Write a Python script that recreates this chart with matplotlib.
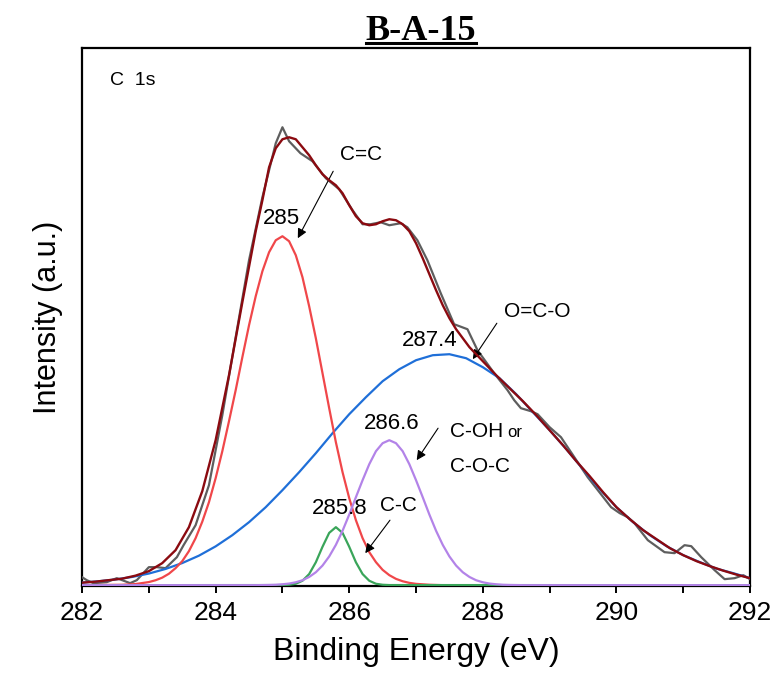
import numpy as np
from matplotlib import pyplot as plt
from matplotlib.lines import Line2D
from matplotlib.ticker import MultipleLocator

# raw spectrum
raw_energy = [282.0, 282.07, 282.17, 282.37, 282.52, 282.72, 282.82, 283.0, 283.12, 283.25,
              283.42, 283.52, 283.7, 283.9, 284.1, 284.3, 284.5, 284.7, 284.9, 285.0,
              285.1, 285.27, 285.45, 285.65, 285.85, 286.05, 286.2, 286.32, 286.47, 286.6,
              286.77, 286.87, 287.02, 287.17, 287.37, 287.57, 287.77, 287.92, 288.17, 288.37,
              288.47, 288.57, 288.72, 288.82, 289.0, 289.17, 289.27, 289.57, 289.92, 290.05,
              290.17, 290.27, 290.47, 290.72, 290.87, 291.02, 291.12, 291.27, 291.47, 291.62,
              291.77, 291.9, 292.0]
raw_counts = [8, 5, 2, 3, 7, 2, 5, 18, 18, 17,
              28, 40, 60, 100, 170, 248, 325, 388, 442, 458,
              444, 432, 424, 407, 396, 375, 361, 361, 363, 360,
              362, 358, 345, 325, 292, 261, 256, 235, 212, 195,
              185, 177, 174, 171, 158, 148, 138, 108, 78, 72,
              68, 62, 45, 33, 32, 40, 39, 28, 15, 6,
              7, 10, 6]

# fitted envelope
env_energy = np.concatenate([np.linspace(282.0, 284.6, 14),
                             np.linspace(284.7, 287.6, 30),
                             np.linspace(287.8, 292.0, 22)])
env_counts = [2.5, 3.5, 5, 6.5, 9.5, 14, 22, 35, 58, 94, 145, 210, 283, 354,
              385, 418, 437, 446, 448, 446, 438, 430, 420, 411,
              405, 400, 392, 380, 369, 362, 360, 361, 364, 366,
              365, 361, 354, 342, 327, 311, 295, 280, 267, 256,
              238, 224, 210, 197, 184, 170, 155, 140, 124, 109, 93,
              78, 66, 55, 46, 37, 30, 24, 19, 14.5, 10.5, 7]

# components
red_energy = np.concatenate([[282.0, 282.6, 282.8], np.linspace(283.0, 287.0, 41), [287.2, 287.4, 292.0]])
red_counts = [0, 0.4, 1.1,
              3.1, 4.9, 7.5, 11.4, 17, 24, 34, 47, 63.5, 83,
              107, 134, 164, 195, 228, 260, 289, 314, 333, 345,
              349, 344, 330, 308, 279, 247, 212, 177, 143, 113,
              87, 65, 47, 33, 23, 15.3, 10, 6.3, 3.9, 2.3,
              1.3,
              0.4, 0, 0]

green_energy = np.concatenate([[282.0], np.linspace(285.0, 286.6, 17), [292.0]])
green_counts = [0, 0.1, 0.4, 1.4, 4.4, 11.1, 22.9, 38.4, 52.3, 58,
                52.3, 38.4, 22.9, 11.1, 4.4, 1.4, 0.4, 0.1, 0]

purple_energy = np.concatenate([[282.0], np.linspace(284.6, 288.6, 41), [292.0]])
purple_counts = [0, 0, 0.1, 0.2, 0.4, 0.9, 1.6, 2.9, 4.9, 8.2, 12.9,
                 19.6, 28.7, 40.3, 54.4, 70.6, 88, 105, 121, 134, 142,
                 145, 142, 134, 121, 105, 88, 70.6, 54.4, 40.3, 28.7,
                 19.6, 12.9, 8.2, 4.9, 2.9, 1.6, 0.9, 0.4, 0.2, 0.1, 0, 0]

blue_energy = np.linspace(282.0, 292.0, 41)
blue_counts = [2.6, 3.9, 5.7, 8.2, 11.6, 16.2, 22.1, 29.5, 38.8, 50,
               63, 78, 95, 113, 132, 152, 171, 188, 204, 216,
               225, 230, 231, 227, 218, 207, 191, 173, 155, 136,
               116, 96, 78, 63, 50, 39, 30, 23, 16.5, 12, 7]

plt.rcParams['font.family'] = ['Liberation Sans', 'DejaVu Sans']

fig = plt.figure(figsize=(7.74, 6.80), dpi=100)
ax = fig.add_axes([0.106, 0.138, 0.863, 0.791])

ax.plot(raw_energy, raw_counts, color='#5e5e5e', lw=1.6, zorder=3)
ax.plot(blue_energy, blue_counts, color='#1f6fd8', lw=1.6, zorder=3)
ax.plot(red_energy, red_counts, color='#f0474a', lw=1.6, zorder=3)
ax.plot(green_energy, green_counts, color='#3aa55a', lw=1.6, zorder=3)
ax.plot(purple_energy, purple_counts, color='#b383e8', lw=1.6, zorder=3)
ax.plot(env_energy, env_counts, color='#8b0a10', lw=1.7, zorder=4)

ax.set_xlim(282, 292)
ax.set_ylim(-1, 537)
ax.xaxis.set_major_locator(MultipleLocator(2))
ax.xaxis.set_minor_locator(MultipleLocator(1))
ax.set_yticks([])
ax.tick_params(axis='x', which='both', direction='out', length=5, width=1.4, labelsize=19, pad=6)
for s in ax.spines.values():
    s.set_linewidth(1.6)

ax.set_xlabel('Binding Energy (eV)', fontsize=23, labelpad=8)
ax.set_ylabel('Intensity (a.u.)', fontsize=22, labelpad=14)

ax.text(282.42, 505, 'C  1s', fontsize=14, ha='left', va='center')

# peak labels
ax.text(284.98, 367, '285', fontsize=16, ha='center', va='center')
ax.text(285.85, 77, '285.8', fontsize=16, ha='center', va='center')
ax.text(286.63, 162, '286.6', fontsize=16, ha='center', va='center')
ax.text(287.21, 245, '287.4', fontsize=16, ha='center', va='center')

arrow = dict(arrowstyle='-|>', color='black', lw=0.8, mutation_scale=14, shrinkA=0, shrinkB=0)
ax.annotate('', xy=(285.23, 347), xytext=(285.76, 414), arrowprops=arrow)
ax.text(286.18, 431, 'C=C', fontsize=15, ha='center', va='center')
ax.annotate('', xy=(286.24, 32), xytext=(286.61, 65), arrowprops=arrow)
ax.text(286.73, 80, 'C-C', fontsize=15, ha='center', va='center')
ax.annotate('', xy=(287.01, 125), xytext=(287.33, 157), arrowprops=arrow)
ax.text(287.51, 148, 'C-OH', fontsize=15, ha='left', va='baseline')
ax.text(288.36, 148, 'or', fontsize=12, ha='left', va='baseline')
ax.text(287.51, 113, 'C-O-C', fontsize=15, ha='left', va='baseline')
ax.annotate('', xy=(287.85, 226), xytext=(288.21, 262), arrowprops=arrow)
ax.text(288.81, 274, 'O=C-O', fontsize=15, ha='center', va='center')

title = fig.text(0.544, 0.941, 'B-A-15', fontsize=26, fontweight='bold',
                 family='Liberation Serif', ha='center', va='baseline')
fig.canvas.draw()
bb = title.get_window_extent().transformed(fig.transFigure.inverted())
uy = 1 - 43.0 / 680
fig.add_artist(Line2D([bb.x0, bb.x1], [uy, uy], transform=fig.transFigure, color='black', lw=2.2))

fig.savefig('out.png', dpi=100)
